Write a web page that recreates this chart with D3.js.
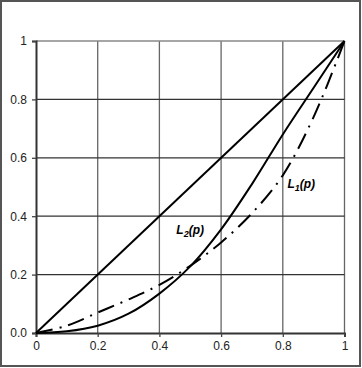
<!DOCTYPE html>
<html>
<head>
<meta charset="utf-8">
<script src="https://cdn.jsdelivr.net/npm/d3@7"></script>
<style>
  body { margin: 0; background: #fff; }
  svg { display: block; font-family: "Liberation Sans", Arial, sans-serif; }
</style>
</head>
<body>
<div id="chart"></div>
<script>
const width = 362;
const height = 368;

// tick labels
const xTicks = [0, 0.2, 0.4, 0.6, 0.8, 1];
const xTickLabels = ["0", "0.2", "0.4", "0.6", "0.8", "1"];
const yTicks = [0, 0.2, 0.4, 0.6, 0.8, 1];
const yTickLabels = ["0.0", "0.2", "0.4", "0.6", "0.8", "1"];

// equality line
const equality = [[0, 0], [1, 1]];

// L2(p), solid convex curve
const l2 = [[0, 0], [0.1, 0.006], [0.2, 0.025], [0.3, 0.066], [0.4, 0.135], [0.5, 0.228],
  [0.6, 0.355], [0.7, 0.51], [0.8, 0.68], [0.9, 0.84], [1, 1]];

// L1(p), dash-dot curve
const l1 = [[0, 0], [0.1, 0.025], [0.2, 0.07], [0.3, 0.115], [0.4, 0.165], [0.5, 0.23],
  [0.6, 0.31], [0.7, 0.41], [0.8, 0.54], [0.9, 0.74], [1, 1]];

const margin = { left: 36, right: 17.5, top: 41, bottom: 35 };

const x = d3.scaleLinear().domain([0, 1]).range([margin.left, width - margin.right]);
const y = d3.scaleLinear().domain([0, 1]).range([height - margin.bottom, margin.top]);

const svg = d3.select("#chart").append("svg")
    .attr("width", width)
    .attr("height", height);

// outer frame
svg.append("rect")
    .attr("x", 1).attr("y", 1)
    .attr("width", width - 3).attr("height", height - 3)
    .attr("fill", "none")
    .attr("stroke", "#555")
    .attr("stroke-width", 2);

// grid
svg.append("g").selectAll("line")
    .data(xTicks.slice(1))
    .join("line")
    .attr("x1", d => x(d)).attr("x2", d => x(d))
    .attr("y1", y(0)).attr("y2", y(1))
    .attr("stroke", "#666")
    .attr("stroke-width", 1.3);

svg.append("g").selectAll("line")
    .data(yTicks.slice(1))
    .join("line")
    .attr("x1", x(0)).attr("x2", x(1))
    .attr("y1", d => y(d)).attr("y2", d => y(d))
    .attr("stroke", d => d === 1 ? "#888" : "#333")
    .attr("stroke-width", 1.3);

// axes
const xAxis = d3.axisBottom(x)
    .tickValues(xTicks)
    .tickFormat((d, i) => xTickLabels[i])
    .tickSize(4)
    .tickPadding(4);

const yAxis = d3.axisLeft(y)
    .tickValues(yTicks)
    .tickFormat((d, i) => yTickLabels[i])
    .tickSize(4)
    .tickPadding(5);

const gx = svg.append("g")
    .attr("transform", `translate(0,${y(0)})`)
    .call(xAxis);

const gy = svg.append("g")
    .attr("transform", `translate(${x(0)},0)`)
    .call(yAxis);

[gx, gy].forEach(g => {
  g.select(".domain").attr("stroke", "#333").attr("stroke-width", 2);
  g.selectAll(".tick line").attr("stroke", "#444").attr("stroke-width", 1.3);
  g.selectAll(".tick text")
      .attr("font-size", 12)
      .attr("font-family", "Liberation Sans, Arial, sans-serif")
      .attr("fill", "#222");
});

// curves
const line = d3.line()
    .x(d => x(d[0]))
    .y(d => y(d[1]))
    .curve(d3.curveCatmullRom.alpha(0.5));

svg.append("path")
    .datum(equality)
    .attr("d", line)
    .attr("fill", "none")
    .attr("stroke", "#000")
    .attr("stroke-width", 2);

svg.append("path")
    .datum(l2)
    .attr("d", line)
    .attr("fill", "none")
    .attr("stroke", "#000")
    .attr("stroke-width", 2);

svg.append("path")
    .datum(l1)
    .attr("d", line)
    .attr("fill", "none")
    .attr("stroke", "#000")
    .attr("stroke-width", 2)
    .attr("stroke-dasharray", "17,7,2,7");

// curve labels
function label(px, py, sub) {
  const t = svg.append("text")
      .attr("x", x(px))
      .attr("y", y(py))
      .attr("font-size", 12)
      .attr("font-weight", "bold")
      .attr("font-style", "italic")
      .attr("fill", "#000");
  t.append("tspan").text("L");
  t.append("tspan").attr("font-size", 9).attr("dy", 3).text(sub);
  t.append("tspan").attr("dy", -3).text("(p)");
}

label(0.455, 0.34, "2");
label(0.815, 0.497, "1");
</script>
</body>
</html>
